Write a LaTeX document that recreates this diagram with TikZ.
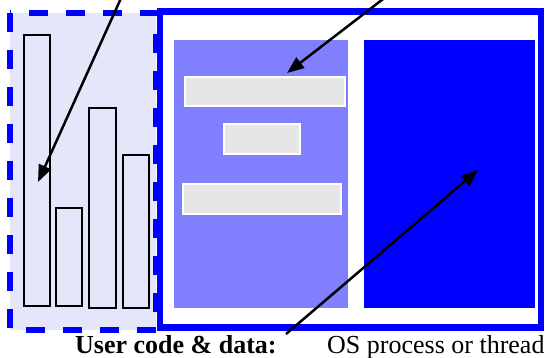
\documentclass[tikz,border=0pt]{standalone}
\usepackage{fontspec}
\setmainfont{Liberation Serif}
\usetikzlibrary{arrows.meta}

\definecolor{lavender}{RGB}{230,230,250}
\definecolor{midblue}{RGB}{128,128,255}
\definecolor{fullblue}{RGB}{0,0,255}
\definecolor{bargray}{RGB}{230,230,230}

\tikzset{
  userbox/.style = {draw = fullblue, fill = lavender, line width = 6.5pt, dash pattern = on 19pt off 18pt},
  osbox/.style   = {draw = fullblue, line width = 6.5pt},
  databar/.style = {draw = black, fill = lavender, line width = 2pt},
  codebar/.style = {draw = white, fill = bargray, line width = 1.5pt},
  pointer/.style = {line width = 2.5pt, -{Triangle[length = 17pt, width = 13pt]}},
  lbl/.style     = {anchor = base west, inner sep = 0pt, font = \fontsize{26}{30}\selectfont}
}

\begin{document}
\begin{tikzpicture}[x = 1pt, y = -1pt]
  \useasboundingbox (0, 0) rectangle (550, 357);
  \clip (0, 0) rectangle (550, 357);

  % ユーザ側の枠
  \draw [userbox] (10, 13) rectangle (156, 330);

  % データの棒
  \draw [databar] (24, 35) rectangle (50, 306);
  \draw [databar] (56, 208) rectangle (82, 306);
  \draw [databar] (89, 108) rectangle (116, 308);
  \draw [databar] (123, 155) rectangle (149, 308);

  % OSの枠
  \draw [osbox] (160, 11.5) rectangle (541, 327.5);
  \fill [midblue] (174, 40) rectangle (348, 308);
  \fill [fullblue] (364, 40) rectangle (535, 308);

  % コードの棒
  \draw [codebar] (185, 77) rectangle (345, 106);
  \draw [codebar] (224, 124) rectangle (300, 154);
  \draw [codebar] (183, 184) rectangle (341, 214);

  % ラベル
  \node [lbl, font = \fontsize{26}{30}\selectfont\bfseries] (userlbl) at (75, 353) {User code \& data:};
  \node [lbl] (oslbl) at (327, 353) {OS process or thread};

  % 矢印
  \coordinate (datafrom) at (122, -4);
  \coordinate (datato) at (38, 182);
  \coordinate (codefrom) at (387, -4);
  \coordinate (codeto) at (287, 73);
  \coordinate (threadfrom) at (286, 334);
  \coordinate (threadto) at (478, 170);
  \draw [pointer] (datafrom) -- (datato);
  \draw [pointer] (codefrom) -- (codeto);
  \draw [pointer] (threadfrom) -- (threadto);
\end{tikzpicture}
\end{document}
